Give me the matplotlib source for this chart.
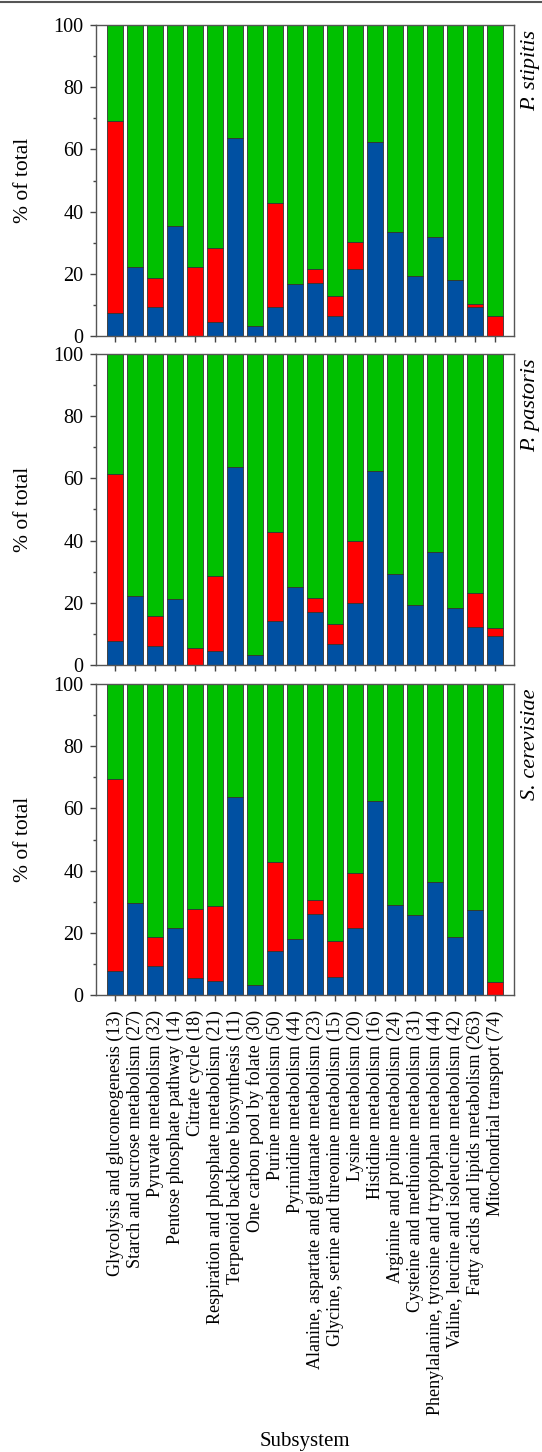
import matplotlib
matplotlib.use("Agg")
import matplotlib.pyplot as plt
from matplotlib.lines import Line2D
import numpy as np

plt.rcParams['font.family'] = ['Liberation Serif', 'DejaVu Serif']

categories = [
    "Glycolysis and gluconeogenesis (13)",
    "Starch and sucrose metabolism (27)",
    "Pyruvate metabolism (32)",
    "Pentose phosphate pathway (14)",
    "Citrate cycle (18)",
    "Respiration and phosphate metabolism (21)",
    "Terpenoid backbone biosynthesis (11)",
    "One carbon pool by folate (30)",
    "Purine metabolism (50)",
    "Pyrimidine metabolism (44)",
    "Alanine, aspartate and glutamate metabolism (23)",
    "Glycine, serine and threonine metabolism (15)",
    "Lysine metabolism (20)",
    "Histidine metabolism (16)",
    "Arginine and proline metabolism (24)",
    "Cysteine and methionine metabolism (31)",
    "Phenylalanine, tyrosine and tryptophan metabolism (44)",
    "Valine, leucine and isoleucine metabolism (42)",
    "Fatty acids and lipids metabolism (263)",
    "Mitochondrial transport (74)",
]

species = ["P. stipitis", "P. pastoris", "S. cerevisiae"]

# blue segment (%), red segment (%); green fills remainder to 100
stipitis_blue = [7.5, 22.1, 9.2, 35.5, 0.0, 4.6, 63.7, 3.2, 9.4, 16.8,
                 17.1, 6.4, 21.5, 62.5, 33.3, 19.3, 31.7, 18.1, 9.2, 0.0]
stipitis_red = [61.7, 0.0, 9.4, 0.0, 22.1, 23.8, 0.0, 0.0, 33.4, 0.0,
                4.5, 6.6, 8.8, 0.0, 0.0, 0.0, 0.0, 0.0, 1.1, 6.3]

pastoris_blue = [7.6, 22.1, 6.1, 21.3, 0.0, 4.6, 63.6, 3.2, 14.1, 25.1,
                 17.2, 6.6, 19.9, 62.5, 29.1, 19.3, 36.3, 18.2, 12.2, 9.2]
pastoris_red = [53.9, 0.0, 9.5, 0.0, 5.5, 23.9, 0.0, 0.0, 28.6, 0.0,
                4.4, 6.6, 19.9, 0.0, 0.0, 0.0, 0.0, 0.0, 11.0, 2.7]

cerevisiae_blue = [7.6, 29.6, 9.3, 21.4, 5.4, 4.6, 63.6, 3.2, 14.1, 18.1,
                   26.0, 5.8, 21.7, 62.5, 29.0, 25.7, 36.3, 18.6, 27.3, 0.0]
cerevisiae_red = [61.7, 0.0, 9.3, 0.0, 22.2, 23.9, 0.0, 0.0, 28.6, 0.0,
                  4.4, 11.7, 17.5, 0.0, 0.0, 0.0, 0.0, 0.0, 0.0, 4.1]

blues = [stipitis_blue, pastoris_blue, cerevisiae_blue]
reds = [stipitis_red, pastoris_red, cerevisiae_red]

c_blue = "#0050A2"
c_red = "#FF0000"
c_green = "#00C000"
edge = "#333333"

W, H = 542, 1452
fig = plt.figure(figsize=(W / 100, H / 100), dpi=100)

left = 96 / W
width = 418 / W
tops = [25, 354, 684]
ph = 311

x = np.arange(len(categories))
for i in range(3):
    ax = fig.add_axes([left, 1 - (tops[i] + ph) / H, width, ph / H])
    b = np.array(blues[i])
    r = np.array(reds[i])
    g = 100 - b - r
    kw = dict(width=0.8, edgecolor=edge, linewidth=0.6)
    ax.bar(x, b, color=c_blue, **kw)
    ax.bar(x, r, bottom=b, color=c_red, **kw)
    ax.bar(x, g, bottom=b + r, color=c_green, **kw)
    ax.set_xlim(-0.95, 19.95)
    ax.set_ylim(0, 100)
    ax.set_yticks(np.arange(0, 101, 20))
    ax.set_yticks(np.arange(10, 100, 20), minor=True)
    ax.tick_params(axis='y', which='major', length=4, width=1, labelsize=14.5,
                   pad=5, color='#444444')
    ax.tick_params(axis='y', which='minor', length=2.5, width=1, color='#444444')
    ax.tick_params(axis='x', which='major', length=4, width=1, color='#444444',
                   labelsize=13, pad=7)
    ax.set_xticks(x)
    for sp in ax.spines.values():
        sp.set_color('#555555')
        sp.set_linewidth(1.0)
    ax.set_ylabel("% of total", fontsize=15.5, labelpad=15)
    ax.text(1.04, 0.985, species[i], transform=ax.transAxes, rotation=90,
            ha='center', va='top', fontsize=16, style='italic')
    if i < 2:
        ax.set_xticklabels([])
    else:
        ax.set_xticklabels(categories, rotation=90)
        ax.set_xlabel("Subsystem", fontsize=15, labelpad=12)

fig.add_artist(Line2D([0, 1], [1 - 1.5 / H, 1 - 1.5 / H], transform=fig.transFigure,
                      color='#555555', linewidth=1.5))

fig.savefig("out.png", dpi=100)
